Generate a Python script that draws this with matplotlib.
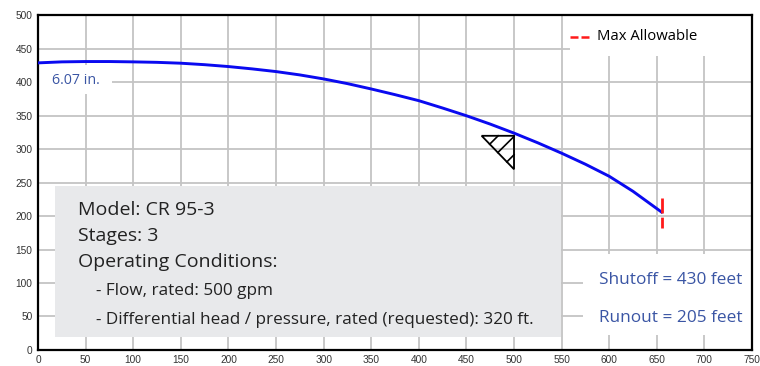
import numpy as np
import matplotlib.pyplot as plt
from matplotlib.patches import Rectangle, Polygon

# pump curve (flow gpm, head ft)
flow = [0, 25, 50, 75, 100, 125, 150, 175, 200, 225, 250, 275, 300, 325,
        350, 375, 400, 425, 450, 475, 500, 525, 550, 575, 600, 625, 655]
head = [429, 430.5, 431, 431, 430.5, 429.8, 428.5, 426.3, 423.5, 420, 416, 411,
        405, 398, 390, 381.5, 372.5, 361.5, 350, 337.5, 324, 309.5, 294, 277.5,
        259.5, 237, 206]

rated_flow, rated_head = 500, 320
runout_flow, runout_head = 655, 205
shutoff_head = 430
impeller = '6.07 in.'

info_lines = ['Model: CR 95-3', 'Stages: 3', 'Operating Conditions:']
info_sub = ['- Flow, rated: 500 gpm',
            '- Differential head / pressure, rated (requested): 320 ft.']

x_ticks = np.arange(0, 751, 50)
y_ticks = np.arange(0, 501, 50)

BLUE_TXT = '#3a55a4'

fig = plt.figure(figsize=(7.6, 3.66), dpi=100)
ax = fig.add_axes([0.05, 0.044, 0.9395, 0.914])
ax.set_xlim(0, 750)
ax.set_ylim(0, 500)
ax.set_xticks(x_ticks)
ax.set_yticks(y_ticks)
ax.tick_params(length=0, labelsize=7.3, labelcolor='#333333', pad=4)
for lab in ax.get_xticklabels() + ax.get_yticklabels():
    lab.set_family('Liberation Sans')
ax.grid(True, color='#c4c4c4', lw=1.3)
ax.set_axisbelow(True)
for s in ax.spines.values():
    s.set_linewidth(1.6)
    s.set_color('black')

# pump curve
ax.plot(flow, head, color='#0a0af0', lw=2.1, zorder=4,
        solid_joinstyle='round')

# max allowable marker at runout
ax.plot([runout_flow, runout_flow], [runout_head + 22, runout_head - 23],
        color='#ff1a1a', lw=2.0, dashes=(5.4, 1.5), zorder=5)

# duty point triangle
tx, ty = rated_flow, rated_head
tri = Polygon([[tx - 34, ty], [tx, ty], [tx, ty - 50]], closed=True,
              fill=False, edgecolor='black', lw=1.3, zorder=5)
ax.add_patch(tri)
for (x0, y0, x1, y1) in [(-25.5, -12.5, -16.7, 0), (-17, -25, 0, -1),
                         (-7.5, -39, 0, -28.4)]:
    ax.plot([tx + x0, tx + x1], [ty + y0, ty + y1], color='black', lw=1.2,
            zorder=5)

# info box
ax.add_patch(Rectangle((18, 19), 531, 226, facecolor='#e8e9eb',
                       edgecolor='none', zorder=3))
fam = ['Open Sans', 'DejaVu Sans']
for i, t in enumerate(info_lines):
    ax.text(42, 209 - i * 38.8, t, fontsize=14, family=fam,
            color='#222222', va='center', zorder=6)
for i, t in enumerate(info_sub):
    ax.text(61, 88 - i * 43, t, fontsize=12.3, family=fam,
            color='#222222', va='center', zorder=6)

# white label patches that break the grid
ax.add_patch(Rectangle((0, 382), 78, 44, facecolor='white', edgecolor='none', zorder=2))
ax.add_patch(Rectangle((572, 22), 178, 122, facecolor='white', edgecolor='none', zorder=2))
ax.add_patch(Rectangle((559, 439), 191, 61, facecolor='white', edgecolor='none', zorder=2))

ax.text(15, 403, impeller, fontsize=10.3, family=fam, color=BLUE_TXT,
        va='center', zorder=6)
ax.text(589, 105, f'Shutoff = {shutoff_head} feet', fontsize=12.4, family=fam,
        color=BLUE_TXT, va='center', zorder=6)
ax.text(589, 48, f'Runout = {runout_head} feet', fontsize=12.4, family=fam,
        color=BLUE_TXT, va='center', zorder=6)

# legend entry
ax.plot([559, 580], [468, 468], color='#ff1a1a', lw=1.8, dashes=(3.2, 1.2),
        zorder=6)
ax.text(587, 468, 'Max Allowable', fontsize=10.7, family=fam, color='black',
        va='center', zorder=6)

fig.savefig('out.png', dpi=100)
